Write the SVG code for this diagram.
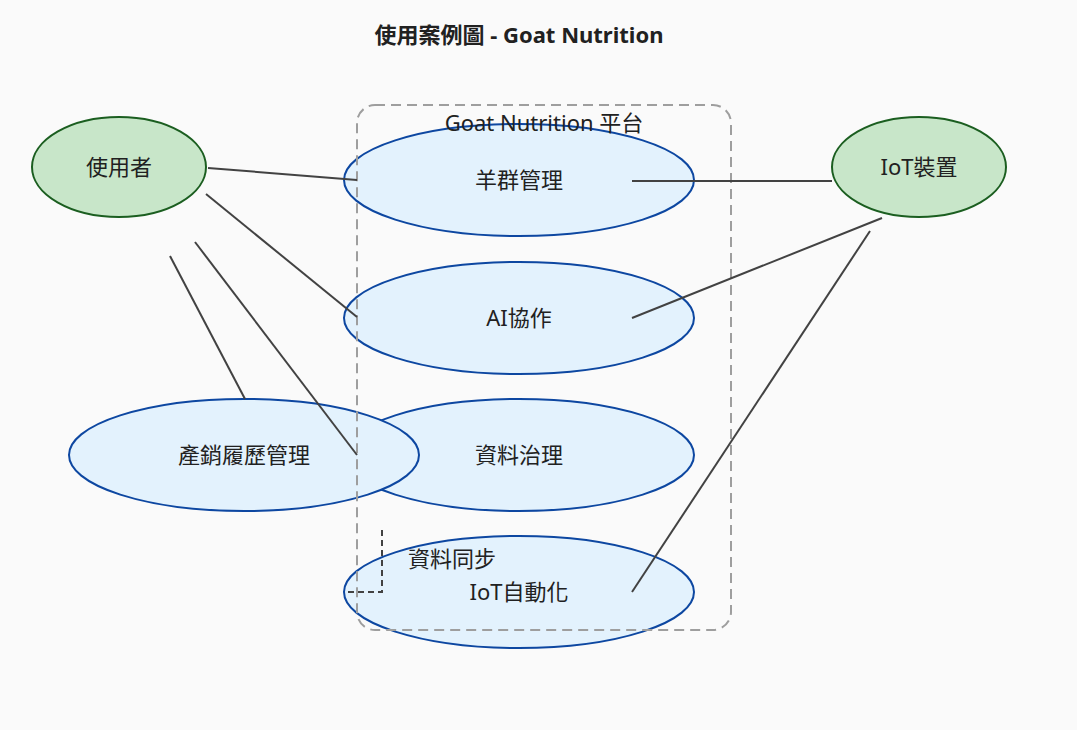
<svg xmlns="http://www.w3.org/2000/svg" width="1077" height="730" viewBox="0 0 1077 730">
<style>
text{font-family:"Noto Sans","Noto Sans CJK TC",sans-serif;fill:#212121;font-size:22px;text-anchor:middle;dominant-baseline:central}
.title{font-weight:bold;font-size:22px}
.actor{fill:#c8e6c9;stroke:#1b5e20;stroke-width:2}
.uc{fill:#e3f2fd;stroke:#0d47a1;stroke-width:2}
.bnd{fill:none;stroke:#9e9e9e;stroke-width:2;stroke-dasharray:10,6}
.ln{stroke:#424242;stroke-width:2;fill:none}
.dash{stroke:#424242;stroke-width:2;fill:none;stroke-dasharray:6,4}
</style>
<rect width="1077" height="730" fill="#fafafa"/>
<text class="title" x="519" y="34">使用案例圖 - Goat Nutrition</text>
<g id="uc-herd"><ellipse class="uc" cx="519" cy="180" rx="175" ry="56"/><text x="519" y="179">羊群管理</text></g>
<g id="uc-ai"><ellipse class="uc" cx="519" cy="318" rx="175" ry="56"/><text x="519" y="317">AI協作</text></g>
<g id="uc-data"><ellipse class="uc" cx="519" cy="455" rx="175" ry="56"/><text x="519" y="454">資料治理</text></g>
<g id="uc-iot"><ellipse class="uc" cx="519" cy="592" rx="175" ry="56"/><text x="519" y="591">IoT自動化</text></g>
<g id="uc-trace"><ellipse class="uc" cx="244" cy="455" rx="175" ry="56"/><text x="244" y="454">產銷履歷管理</text></g>
<g id="boundary"><rect class="bnd" x="357" y="105" width="374" height="525" rx="18"/><text x="544" y="122">Goat Nutrition 平台</text></g>
<g id="actor-user"><ellipse class="actor" cx="119" cy="167" rx="87" ry="50"/><text x="119" y="166">使用者</text></g>
<g id="actor-iot"><ellipse class="actor" cx="919" cy="167" rx="87" ry="50"/><text x="919" y="166">IoT裝置</text></g>
<g id="connectors">
<line class="ln" x1="208" y1="168" x2="357" y2="180"/>
<line class="ln" x1="206" y1="194" x2="357" y2="317"/>
<line class="ln" x1="195" y1="242" x2="357" y2="455"/>
<line class="ln" x1="170" y1="256" x2="245" y2="399"/>
<line class="ln" x1="632" y1="181" x2="832" y2="181"/>
<line class="ln" x1="882" y1="218" x2="632" y2="318"/>
<line class="ln" x1="870" y1="231" x2="632" y2="592"/>
<polyline class="dash" points="382,530 382,592 346,592"/>
<text x="452" y="558">資料同步</text>
</g>
</svg>
